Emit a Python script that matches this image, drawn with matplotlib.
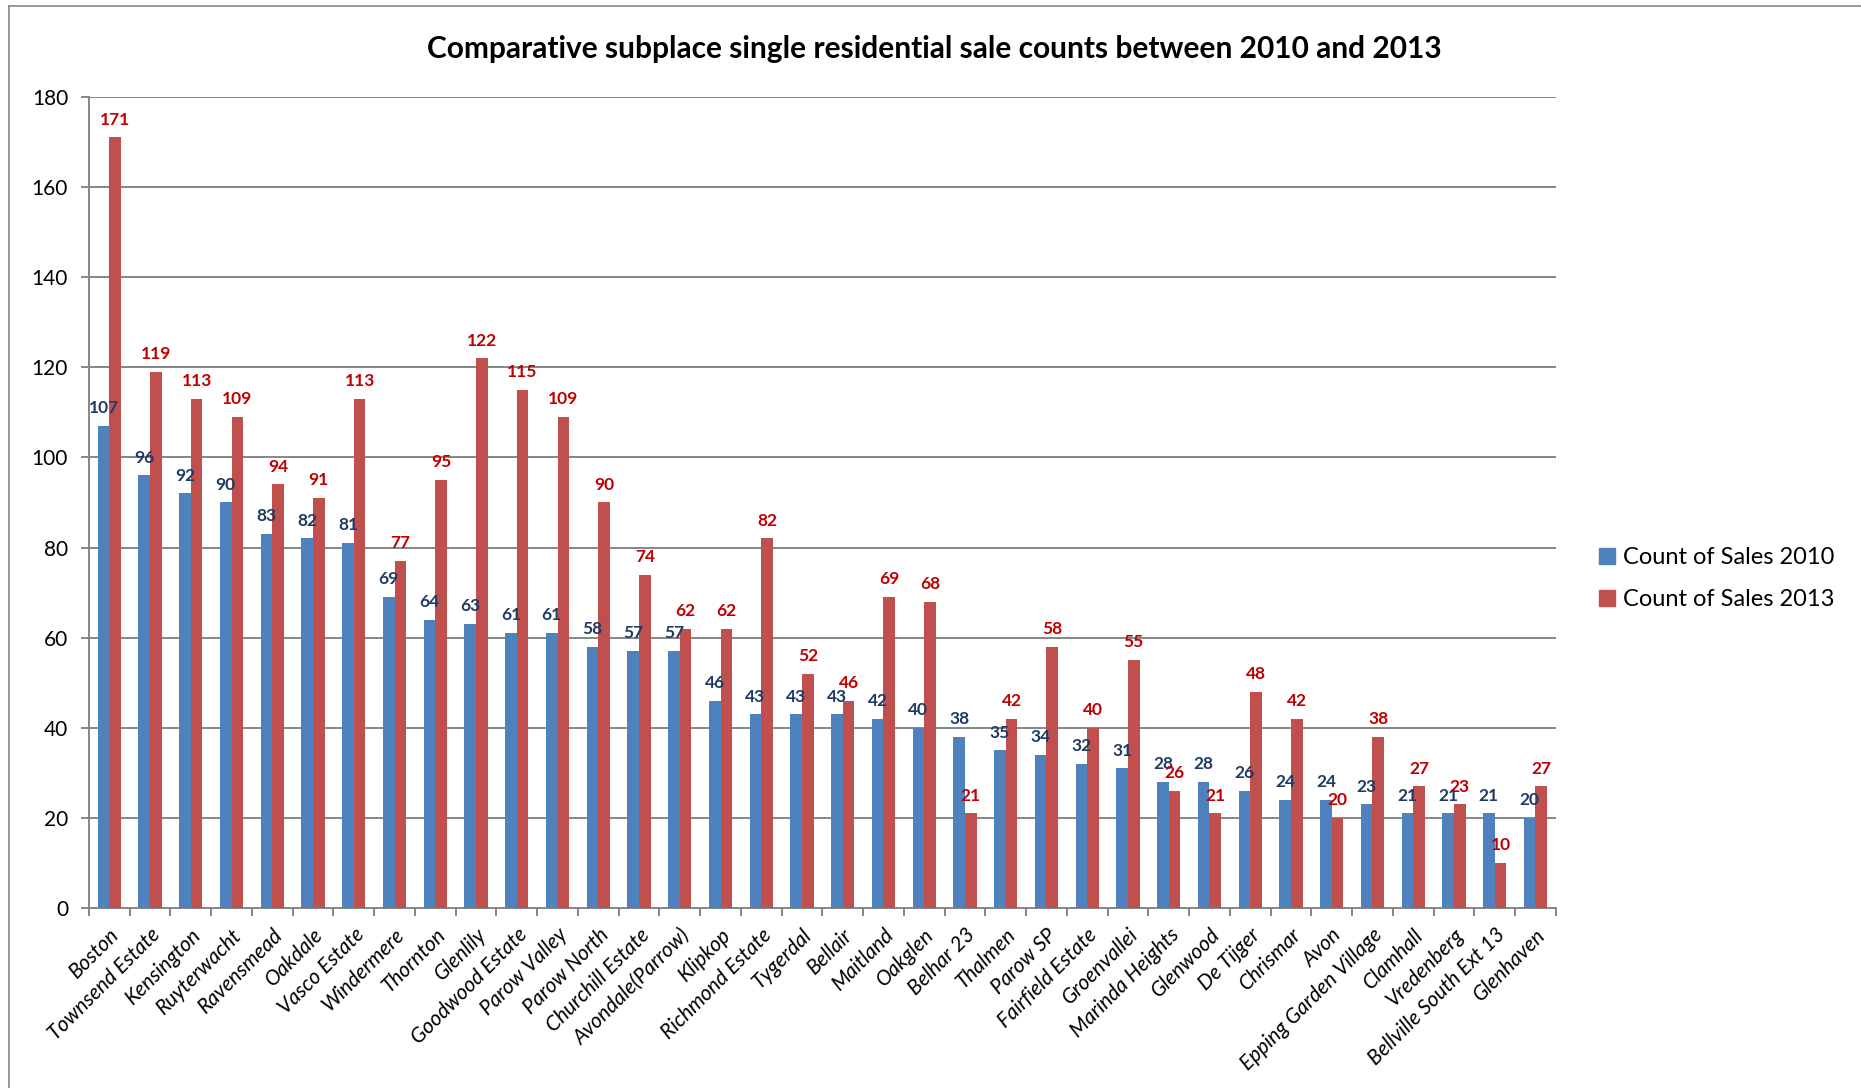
import numpy as np
import matplotlib
matplotlib.use("Agg")
import matplotlib.pyplot as plt
from matplotlib.lines import Line2D

# subplaces, ordered as in the source chart
places = ["Boston", "Townsend Estate", "Kensington", "Ruyterwacht", "Ravensmead",
          "Oakdale", "Vasco Estate", "Windermere", "Thornton", "Glenlily",
          "Goodwood Estate", "Parow Valley", "Parow North", "Churchill Estate",
          "Avondale(Parrow)", "Klipkop", "Richmond Estate", "Tygerdal", "Bellair",
          "Maitland", "Oakglen", "Belhar 23", "Thalmen", "Parow SP",
          "Fairfield Estate", "Groenvallei", "Marinda Heights", "Glenwood",
          "De Tijger", "Chrismar", "Avon", "Epping Garden Village", "Clamhall",
          "Vredenberg", "Bellville South Ext 13", "Glenhaven"]
sales_2010 = [107, 96, 92, 90, 83, 82, 81, 69, 64, 63, 61, 61, 58, 57, 57, 46, 43, 43,
              43, 42, 40, 38, 35, 34, 32, 31, 28, 28, 26, 24, 24, 23, 21, 21, 21, 20]
sales_2013 = [171, 119, 113, 109, 94, 91, 113, 77, 95, 122, 115, 109, 90, 74, 62, 62, 82, 52,
              46, 69, 68, 21, 42, 58, 40, 55, 26, 21, 48, 42, 20, 38, 27, 23, 10, 27]
yticks = [0, 20, 40, 60, 80, 100, 120, 140, 160, 180]

plt.rcParams['font.family'] = ['Lato', 'DejaVu Sans']

blue = '#4F81BD'
red = '#C0504D'
grid_c = '#868686'

fig = plt.figure(figsize=(18.61, 10.88), dpi=100)
ax = fig.add_axes([0.0478, 0.1654, 0.7882, 0.7456])

x = np.arange(len(places))
w = 0.285
b1 = ax.bar(x - w/2, sales_2010, w, color=blue, zorder=3)
b2 = ax.bar(x + w/2, sales_2013, w, color=red, zorder=3)

# value labels above the bars
for rect, v in zip(b1, sales_2010):
    ax.annotate(str(v), (rect.get_x() + rect.get_width()/2, v), xytext=(0, 7),
                textcoords='offset points', ha='center', va='bottom',
                fontsize=12.5, fontweight='bold', color='#1F3B64', zorder=4)
for rect, v in zip(b2, sales_2013):
    ax.annotate(str(v), (rect.get_x() + rect.get_width()/2, v), xytext=(0, 7),
                textcoords='offset points', ha='center', va='bottom',
                fontsize=12.5, fontweight='bold', color='#C00000', zorder=4)

ax.set_xlim(-0.5, len(places) - 0.5)
ax.set_ylim(0, 180)
ax.set_yticks(yticks)
ax.yaxis.grid(True, color=grid_c, linewidth=1.4, zorder=0)
ax.set_axisbelow(True)

for s in ['top', 'right']:
    ax.spines[s].set_visible(False)
for s in ['left', 'bottom']:
    ax.spines[s].set_color(grid_c)
    ax.spines[s].set_linewidth(1.4)

ax.tick_params(axis='y', labelsize=15, color=grid_c, width=1.4, length=6, pad=9)
ax.set_xticks(np.arange(len(places) + 1) - 0.5, minor=False)
ax.set_xticklabels([])
ax.tick_params(axis='x', which='major', color=grid_c, width=1.4, length=6)
ax.set_xticks(x, minor=True)
ax.set_xticklabels(places, minor=True, rotation=45, ha='right', rotation_mode='anchor',
                   fontsize=15, fontstyle='italic')
ax.tick_params(axis='x', which='minor', length=0, pad=12)

fig.suptitle('Comparative subplace single residential sale counts between 2010 and 2013',
             x=0.502, y=0.968, fontsize=21.5, fontweight='bold')

handles = [Line2D([], [], marker='s', linestyle='none', markersize=11, color=blue),
           Line2D([], [], marker='s', linestyle='none', markersize=11, color=red)]
fig.legend(handles, ['Count of Sales 2010', 'Count of Sales 2013'],
           loc='center left', bbox_to_anchor=(0.846, 0.468), frameon=False,
           fontsize=17, handletextpad=0.15, labelspacing=0.9, handlelength=1.0)

# outer chart border
fig.add_artist(Line2D([0.0048, 0.0048], [0, 0.9945], transform=fig.transFigure,
                      color=grid_c, linewidth=1.2))
fig.add_artist(Line2D([0.0048, 1], [0.9945, 0.9945], transform=fig.transFigure,
                      color=grid_c, linewidth=1.2))

fig.savefig('out.png', dpi=100)
